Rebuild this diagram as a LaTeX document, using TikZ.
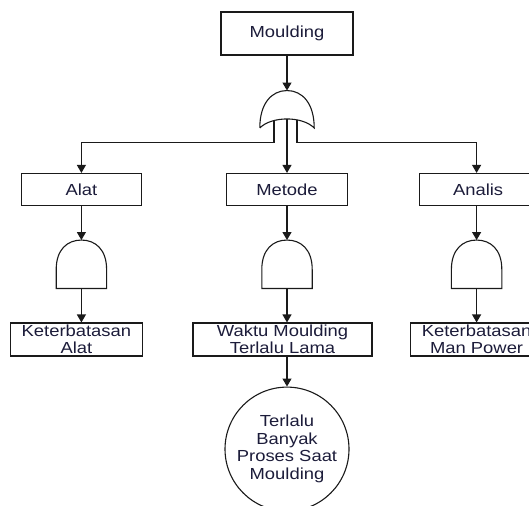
\documentclass[tikz,border=0pt]{standalone}
\usepackage{fontspec}
\setmainfont{Liberation Sans}[FakeStretch=1.15]
\usepackage{tikz}
\usetikzlibrary{arrows.meta}
\usetikzlibrary{shapes,positioning}
\definecolor{lineDark}{HTML}{1A1A1A}
\definecolor{textDark}{HTML}{1C1C3A}
\tikzset{ft-line/.style={line width=1.1pt, draw=lineDark}}
\tikzset{>={Triangle[width=9pt,length=8pt]}}
\tikzset{arr/.style={->, ft-line}}
\tikzset{ft-box/.style={draw=lineDark, line width=1.1pt, fill=white, inner sep=0, minimum height=32pt,
        text=textDark, font=\fontsize{16}{17.5}\selectfont, align=center}}
\tikzset{ft-event/.style={ft-box, circle, minimum size=124pt}}
\tikzset{gate-area/.style={inner sep=0, minimum width=50pt, minimum height=48pt}}
\newcommand{\andgate}[1] {
    \draw[ft-line, fill=white] (#1.south west) -- ([yshift=19pt]#1.south west)
        .. controls ([yshift=39pt]#1.south west) and ([xshift=-14pt]#1.north) .. (#1.north)
        .. controls ([xshift=14pt]#1.north) and ([yshift=39pt]#1.south east) .. ([yshift=19pt]#1.south east)
        -- (#1.south east) -- cycle;
}
\newcommand{\orgate}[1] {
    \draw[ft-line, fill=white] (#1.south west)
        .. controls ([yshift=25pt]#1.south west) and ([xshift=-15pt]#1.north) .. (#1.north)
        .. controls ([xshift=15pt]#1.north) and ([yshift=25pt]#1.south east) .. (#1.south east)
        .. controls ([xshift=-12pt,yshift=12pt]#1.south east) and ([xshift=12pt,yshift=12pt]#1.south west) .. (#1.south west);
    % leg ends
    \coordinate (#1-l) at ([xshift=-13pt,yshift=7pt]#1.south);
    \coordinate (#1-c) at ([yshift=9pt]#1.south);
    \coordinate (#1-r) at ([xshift=10pt,yshift=8pt]#1.south);
}

\begin{document}
\begin{tikzpicture}[x=1pt, y=1pt]
    \useasboundingbox (0,0) rectangle (529,-505);

    \node[ft-box, minimum width=132pt, minimum height=43pt] (moulding) at (287,-33.5) {Moulding};
    \node[gate-area, minimum width=54pt, minimum height=37pt, below=35pt of moulding] (gate0) {};
    \orgate{gate0}

    \node[ft-box, minimum width=121pt, below=45pt of gate0] (metode) {Metode};
    \node[ft-box, minimum width=120pt, left=84pt of metode] (alat) {Alat};
    \node[ft-box, minimum width=117pt, right=71pt of metode, xshift=0pt] (analis) {Analis};

    \node[gate-area, below=34pt of alat] (gate1) {};
    \node[gate-area, below=34pt of metode] (gate2) {};
    \node[gate-area, below=34pt of analis, xshift=-1.5pt] (gate3) {};
    \andgate{gate1}
    \andgate{gate2}
    \andgate{gate3}

    \node[ft-box, minimum width=132pt, minimum height=33pt, below=34pt of gate1, xshift=-5pt] (ketalat) {Keterbatasan\\Alat};
    \node[ft-box, minimum width=179pt, minimum height=33pt, below=34pt of gate2, xshift=-4.5pt] (waktu) {Waktu Moulding\\Terlalu Lama};
    \node[ft-box, minimum width=132pt, minimum height=33pt, below=34pt of gate3] (ketman) {Keterbatasan\\Man Power};

    \node[ft-event, below=30pt of waktu.south -| gate2.south] (banyak) {Terlalu\\Banyak\\Proses Saat\\Moulding};

    \draw[arr] (moulding) -- (gate0.north);
    \draw[arr] (gate0-l) -- ++(0,-22) -| (alat.north -| gate1.north);
    \draw[arr] (gate0-c) -- (metode.north);
    \draw[arr] (gate0-r) -- ++(0,-23) -| (gate3.north |- analis.north);

    \draw[arr] (alat) -- (gate1.north);
    \draw[arr] (metode) -- (gate2.north);
    \draw[arr] (gate3.north |- analis.south) -- (gate3.north);

    \draw[arr] (gate1.south) -- (gate1.south |- ketalat.north);
    \draw[arr] (gate2.south) -- (gate2.south |- waktu.north);
    \draw[arr] (gate3.south) -- (gate3.south |- ketman.north);

    \draw[arr] (banyak.north |- waktu.south) -- (banyak);
\end{tikzpicture}
\end{document}
